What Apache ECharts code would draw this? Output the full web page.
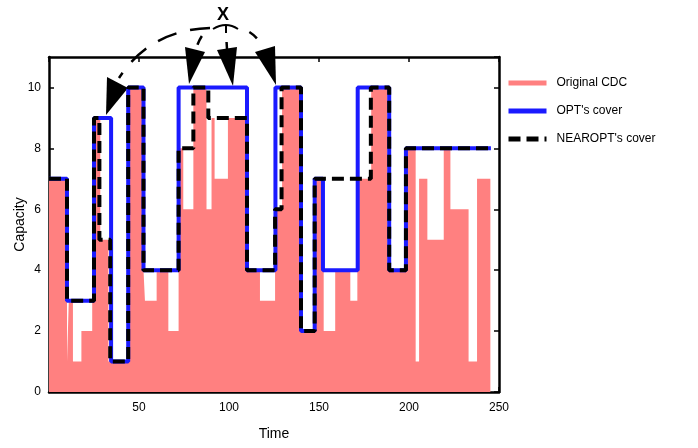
<!DOCTYPE html>
<html>
<head>
<meta charset="utf-8" />
<title>CDC cover</title>
<script src="https://cdn.jsdelivr.net/npm/echarts@6/dist/echarts.min.js"></script>
<style>
  html, body { margin: 0; padding: 0; background: #fff; }
  #main { width: 698px; height: 448px; }
</style>
</head>
<body>
<div id="main"></div>
<script type="text/javascript">
// breakpoints (time) and the value held until the next breakpoint
var cdcTime = [0, 10, 11, 13.3, 18, 24, 25.8, 28.5, 33, 45, 52.5, 53.3, 59.8, 66.3, 72, 74.6, 80.2, 87.5, 90.3, 92, 99.4, 110, 117.2, 125.6, 129.5, 139.5, 148, 152.6, 159, 167.4, 171.3, 179, 188, 198.5, 203.7, 205.6, 210.2, 219.3, 223, 233.1, 237.8, 245.2];
var cdcCap  = [7, 1, 3, 1, 2, 3, 9, 5, 1, 10, 4, 3, 4, 2, 8, 6, 10, 6, 9, 7, 9, 4, 3, 6, 10, 2, 7, 2, 4, 3, 7, 10, 4, 8, 1, 7, 5, 8, 6, 1, 7, 0];

var optTime = [0, 10, 25, 34.5, 44, 52.5, 72, 110, 125.8, 140, 147.6, 152.2, 171.5, 189, 198.3, 245.5];
var optCap  = [7, 3, 9, 1, 10, 4, 10, 4, 10, 2, 7, 4, 10, 4, 8, 8];

var nearTime = [0, 10, 25, 28, 34, 44, 52.5, 72, 80.2, 88.5, 110, 125.6, 129.2, 140, 147.6, 178.8, 189, 198.3, 245.5];
var nearCap  = [7, 3, 9, 5, 1, 10, 4, 8, 10, 9, 4, 6, 10, 2, 7, 10, 4, 8, 8];

var seriesNames = ['Original CDC', "OPT's cover", "NEAROPT's cover"];

function zip(xs, ys) {
  var out = [];
  for (var i = 0; i < xs.length; i++) out.push([xs[i], ys[i]]);
  return out;
}

var pink = '#ff8080';
var blue = '#1a1aff';
var font = 'Liberation Sans, Arial, sans-serif';

var myChart = echarts.init(document.getElementById('main'));

var tickStyle = { show: true, inside: true, length: 5, lineStyle: { color: '#000', width: 1.5 } };
var lineStyle = { show: true, onZero: false, lineStyle: { color: '#000', width: 2.5 } };

var option = {
  animation: false,
  grid: { left: 49, right: 199, top: 57, bottom: 56, outerBoundsMode: 'none', containLabel: false },
  xAxis: [
    {
      type: 'value', min: 0, max: 250, interval: 50,
      name: 'Time', nameLocation: 'middle', nameGap: 35, nameMoveOverlap: false,
      nameTextStyle: { fontSize: 14, color: '#000', fontFamily: font },
      axisLine: lineStyle, axisTick: tickStyle,
      axisLabel: { showMinLabel: false, fontSize: 12, color: '#000', fontFamily: font, margin: 10 },
      splitLine: { show: false }
    },
    {
      type: 'value', min: 0, max: 250, interval: 50, position: 'top',
      axisLine: lineStyle, axisTick: tickStyle,
      axisLabel: { show: false }, splitLine: { show: false }
    }
  ],
  yAxis: [
    {
      type: 'value', min: 0, max: 11, interval: 2,
      name: 'Capacity', nameLocation: 'middle', nameGap: 22, nameRotate: 90, nameMoveOverlap: false,
      nameTextStyle: { fontSize: 14, color: '#000', fontFamily: font },
      axisLine: lineStyle, axisTick: tickStyle,
      axisLabel: { showMaxLabel: false, fontSize: 12, color: '#000', fontFamily: font, margin: 8 },
      splitLine: { show: false }
    },
    {
      type: 'value', min: 0, max: 11, interval: 2, position: 'right',
      axisLine: lineStyle, axisTick: tickStyle,
      axisLabel: { show: false }, splitLine: { show: false }
    }
  ],
  legend: {
    orient: 'vertical', left: 501, top: 72,
    itemWidth: 38, itemHeight: 14, itemGap: 16,
    itemStyle: { opacity: 0 },
    textStyle: { fontSize: 12, color: '#000', fontFamily: font, padding: [0, 0, 0, 5] },
    data: [
      { name: seriesNames[0], lineStyle: { width: 5, color: pink } },
      { name: seriesNames[1], lineStyle: { width: 5 } },
      { name: seriesNames[2], lineStyle: { width: 5 } }
    ]
  },
  series: [
    {
      name: seriesNames[0], type: 'line', step: 'end', symbol: 'none',
      lineStyle: { width: 0, color: pink }, itemStyle: { color: pink },
      areaStyle: { color: pink, opacity: 1 },
      data: zip(cdcTime, cdcCap), z: 1
    },
    {
      name: seriesNames[1], type: 'line', step: 'end', symbol: 'none',
      lineStyle: { width: 4, color: blue }, itemStyle: { color: blue },
      data: zip(optTime, optCap), z: 2
    },
    {
      name: seriesNames[2], type: 'line', step: 'end', symbol: 'none',
      lineStyle: { width: 4, color: '#000', type: [12, 6] }, itemStyle: { color: '#000' },
      data: zip(nearTime, nearCap), z: 3
    },
    // empty series so the top and right frame axes get drawn
    { type: 'line', xAxisIndex: 1, yAxisIndex: 1, data: [], silent: true }
  ],
  graphic: [
    { type: 'text', left: 217, top: 6, style: { text: 'X', font: 'bold 18px ' + font, fill: '#000' } },
    { type: 'bezierCurve', shape: { x1: 213, y1: 29, cpx1: 226, cpy1: 21, x2: 238, y2: 29 },
      style: { stroke: '#000', lineWidth: 2, fill: null } },
    { type: 'line', shape: { x1: 226, y1: 26, x2: 226, y2: 33 }, style: { stroke: '#000', lineWidth: 2 } },
    // arrow shafts
    { type: 'bezierCurve', shape: { x1: 210, y1: 28, cpx1: 150, cpy1: 30, x2: 119, y2: 78 },
      style: { stroke: '#000', lineWidth: 2.5, fill: null, lineDash: [20, 14] } },
    { type: 'bezierCurve', shape: { x1: 207, y1: 30, cpx1: 200, cpy1: 36, x2: 196, y2: 49 },
      style: { stroke: '#000', lineWidth: 2.5, fill: null, lineDash: [0, 8, 10, 8] } },
    { type: 'line', shape: { x1: 226, y1: 33, x2: 227, y2: 49 },
      style: { stroke: '#000', lineWidth: 2.5, lineDash: [0, 9, 7, 4] } },
    { type: 'bezierCurve', shape: { x1: 242, y1: 29, cpx1: 255, cpy1: 32, x2: 264, y2: 49 },
      style: { stroke: '#000', lineWidth: 2.5, fill: null, lineDash: [0, 8, 10, 8] } },
    // arrow heads
    { type: 'polygon', shape: { points: [[106, 115], [107, 77], [128, 88]] }, style: { fill: '#000' } },
    { type: 'polygon', shape: { points: [[189, 84], [185, 47], [205, 52]] }, style: { fill: '#000' } },
    { type: 'polygon', shape: { points: [[233, 86], [217, 50], [237, 47]] }, style: { fill: '#000' } },
    { type: 'polygon', shape: { points: [[276, 85], [255, 52], [275, 46]] }, style: { fill: '#000' } }
  ]
};

myChart.setOption(option);
</script>
</body>
</html>
